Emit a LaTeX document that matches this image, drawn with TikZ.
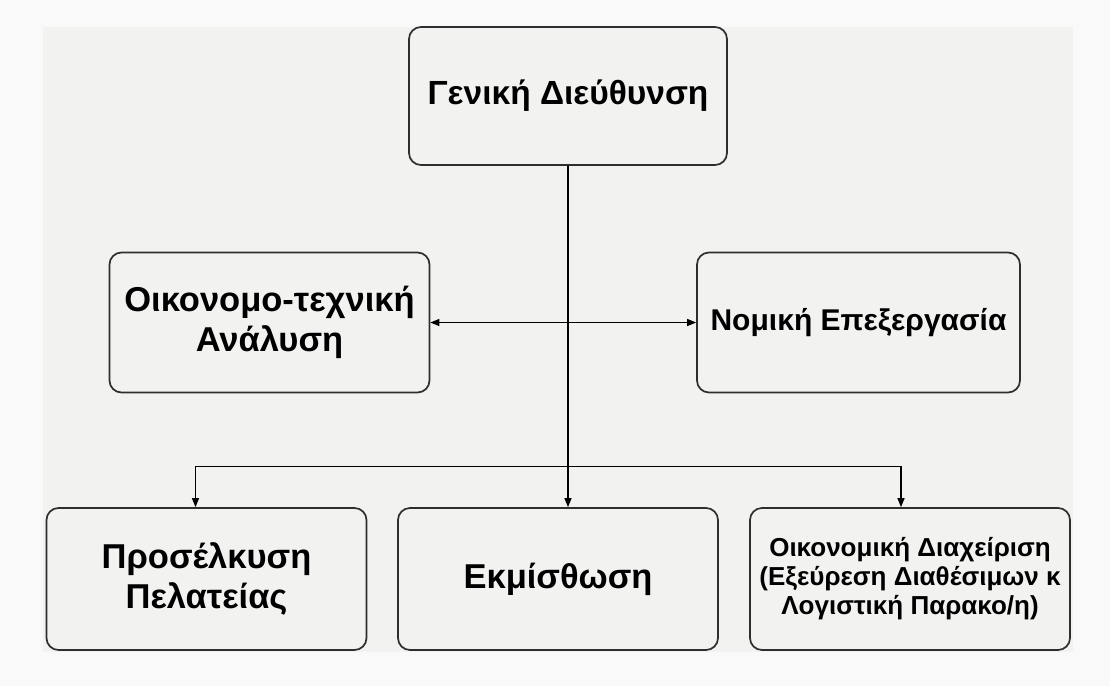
\documentclass[tikz,border=0pt]{standalone}
\usepackage{fontspec}
\setmainfont{Liberation Sans}
\usetikzlibrary{arrows.meta, positioning}
\definecolor{pagebg}{HTML}{F9F9F9}
\definecolor{sheetbg}{HTML}{F2F2F1}
\definecolor{boxline}{HTML}{2E2E2E}

\begin{document}
\begin{tikzpicture}[x=1pt,y=-1pt,
  unit/.style={draw=boxline,line width=1.7pt,rounded corners=12pt,align=center,
    minimum width=320pt,minimum height=140pt,inner sep=0pt,
    font=\bfseries\fontsize{34.5}{40}\selectfont},
  small/.style={font=\bfseries\fontsize{26}{29}\selectfont},
  conn/.style={line width=1.3pt,-{Triangle[length=9pt,width=7pt]}}]
 % background sheet
 \fill[pagebg] (0,0) rectangle (1110,686);
 \fill[sheetbg] (43,27) rectangle (1073,652);
 \useasboundingbox (0,0) rectangle (1110,686);

 \node[unit, minimum width=318pt, minimum height=138pt, font=\bfseries\fontsize{33.5}{40}\selectfont]
   at (568,96) (gen) {Γενική Διεύθυνση};
 \node[unit] at (269.5,322.5) (oik) {Οικονομο-τεχνική\\Ανάλυση};
 \node[unit, minimum width=323pt, font=\bfseries\fontsize{30}{36}\selectfont]
   at (858.5,322.5) (nom) {Νομική Επεξεργασία};

 \node[unit, minimum height=142pt] at (206.5,579) (pel) {Προσέλκυση\\Πελατείας};
 \node[unit, minimum height=142pt] at (558,579) (ekm) {Εκμίσθωση};
 \node[unit, small, minimum height=142pt] at (910,579) (dia)
   {Οικονομική Διαχείριση\\(Εξεύρεση Διαθέσιμων κ\\Λογιστική Παρακο/η)};

 \coordinate (split) at ([yshift=41pt]gen.south |- ekm.north);
 \draw[conn] (gen.south) -- (gen.south |- ekm.north);
 \draw[conn,{Triangle[length=9pt,width=7pt]}-{Triangle[length=9pt,width=7pt]}] (oik.east) -- (nom.west);
 \draw[conn] (split) -| ([xshift=-11pt]pel.north);
 \draw[conn] (split) -| ([xshift=-9pt]dia.north);
\end{tikzpicture}
\end{document}
